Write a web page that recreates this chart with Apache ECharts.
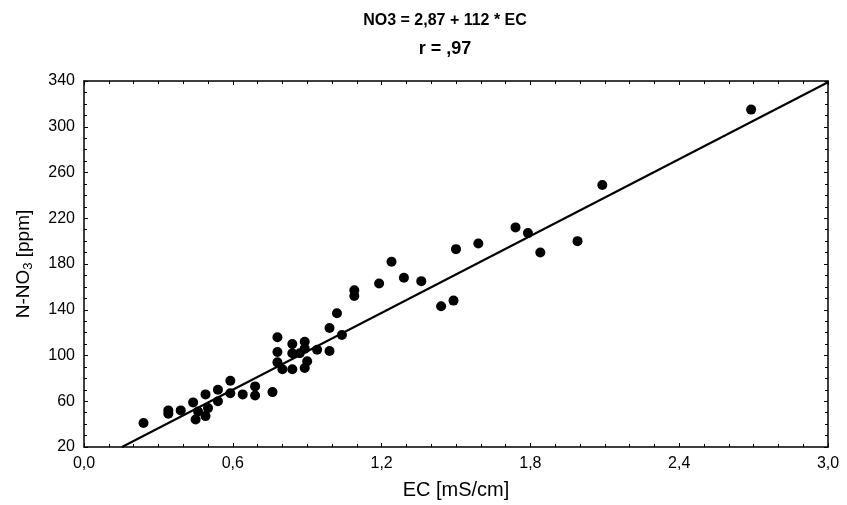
<!DOCTYPE html>
<html>
<head>
<meta charset="utf-8">
<script src="https://cdn.jsdelivr.net/npm/echarts@6/dist/echarts.min.js"></script>
<style>html,body{margin:0;padding:0;background:#fff}#c{width:847px;height:505px}</style>
</head>
<body>
<div id="c"></div>
<script>
// EC [mS/cm] values
var ecValues = [0.24,0.34,0.34,0.39,0.44,0.45,0.46,0.49,0.50,0.49,0.54,0.54,0.59,0.59,0.64,0.69,0.69,0.76,
  0.78,0.78,0.78,0.80,0.84,0.84,0.84,0.89,0.89,0.89,0.87,0.90,0.94,0.99,0.99,1.04,1.02,1.09,1.09,1.19,1.24,
  1.29,1.36,1.44,1.49,1.50,1.59,1.74,1.79,1.84,1.99,2.09,2.69];
// N-NO3 [ppm] values
var no3Values = [41,52,49,52,59,44,51,47,54,66,70,60,78,67,66,73,65,68,
  116,103,94,88,110,102,88,112,106,89,102,95,105,124,104,118,137,157,152,163,182,
  168,165,143,148,193,198,212,207,190,200,249,315];
// Regression line endpoints (NO3 = 2,87 + 112 * EC)
var fitX = [0.153, 3.0];
var fitY = [20, 338.9];
var xTicks = [0, 0.6, 1.2, 1.8, 2.4, 3.0];
var yTicks = [20, 60, 100, 140, 180, 220, 260, 300, 340];

var points = ecValues.map(function(v,i){return [v, no3Values[i]];});
var linePts = fitX.map(function(v,i){return [v, fitY[i]];});

var FONT = 'Liberation Sans, Arial, sans-serif';
function xAxisCfg(pos, labels){
  return {
    type:'value', position:pos, min:xTicks[0], max:xTicks[xTicks.length-1], interval:0.6,
    axisLine:{show:true, onZero:false, lineStyle:{color:'#000', width:1.5}},
    axisTick:{show:true, inside:true, length:4, lineStyle:{color:'#000'}},
    minorTick:{show:true, splitNumber:6, length:3, lineStyle:{color:'#000'}},
    splitLine:{show:false},
    axisLabel:{show:labels, color:'#000', fontSize:16, fontFamily:FONT, margin:9,
      formatter:function(v){return v.toFixed(1).replace('.', ',');}},
    name: labels ? 'EC [mS/cm]' : '', nameLocation:'middle', nameGap:33,
    nameTextStyle:{color:'#000', fontSize:20, fontFamily:FONT}
  };
}
function yAxisCfg(pos, labels){
  return {
    type:'value', position:pos, min:yTicks[0], max:yTicks[yTicks.length-1], interval:40,
    axisLine:{show:true, onZero:false, lineStyle:{color:'#000', width:1.5}},
    axisTick:{show:true, inside:true, length:4, lineStyle:{color:'#000'}},
    minorTick:{show:true, splitNumber:4, length:3, lineStyle:{color:'#000'}},
    splitLine:{show:false},
    axisLabel:{show:labels, color:'#000', fontSize:16, fontFamily:FONT, margin:9},
    name: labels ? '{a|N-NO}{s|3}{a| [ppm]}' : '', nameLocation:'middle', nameGap:49, nameRotate:90,
    nameTextStyle:{color:'#000', fontSize:19, fontFamily:FONT,
      rich:{a:{fontSize:19, fontFamily:FONT, color:'#000'},
            s:{fontSize:13, fontFamily:FONT, color:'#000', verticalAlign:'bottom', padding:[9,0,0,0]}}}
  };
}
var chart = echarts.init(document.getElementById('c'), null, {renderer:'canvas'});
chart.setOption({
  animation:false,
  backgroundColor:'#fff',
  grid:{left:84, right:19, top:81, bottom:57, containLabel:false},
  title:[
    {text:'NO3 = 2,87 + 112 * EC', left:440, top:8, textAlign:'center',
     textStyle:{fontSize:16, fontWeight:'bold', fontFamily:FONT, color:'#000'}},
    {text:'r = ,97', left:440, top:35, textAlign:'center',
     textStyle:{fontSize:18, fontWeight:'bold', fontFamily:FONT, color:'#000'}}
  ],
  xAxis:[xAxisCfg('bottom', true), xAxisCfg('top', false)],
  yAxis:[yAxisCfg('left', true), yAxisCfg('right', false)],
  series:[
    {type:'line', data:linePts, showSymbol:false, symbol:'none',
     lineStyle:{color:'#000', width:2}, z:2},
    {type:'scatter', data:points, symbol:'circle', symbolSize:10,
     itemStyle:{color:'#000', opacity:1}, z:3}
  ]
});
</script>
</body>
</html>
